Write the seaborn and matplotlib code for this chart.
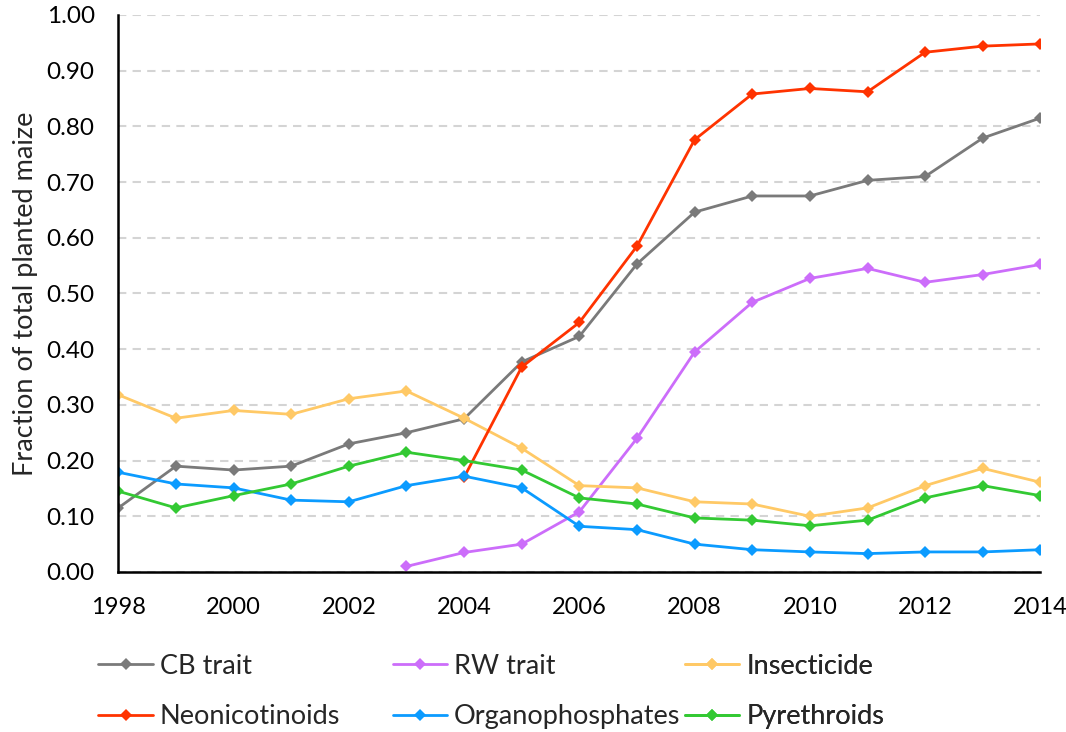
import pandas as pd
import matplotlib.pyplot as plt
import numpy as np
import seaborn as sns

years = list(range(1998, 2015))
nan = np.nan

# Values
cb_trait = [0.115, 0.190, 0.183, 0.190, 0.230, 0.250, 0.275, 0.377, 0.423, 0.553,
            0.646, 0.675, 0.675, 0.703, 0.710, 0.779, 0.815]
rw_trait = [nan, nan, nan, nan, nan, 0.010, 0.035, 0.050, 0.108, 0.240,
            0.395, 0.484, 0.527, 0.545, 0.520, 0.534, 0.552]
insecticide = [0.318, 0.276, 0.290, 0.283, 0.311, 0.325, 0.276, 0.222, 0.155, 0.151,
               0.126, 0.122, 0.100, 0.115, 0.155, 0.186, 0.161]
neonicotinoids = [nan, nan, nan, nan, nan, nan, 0.170, 0.368, 0.448, 0.585,
                  0.776, 0.858, 0.868, 0.862, 0.933, 0.944, 0.948]
organophosphates = [0.179, 0.158, 0.151, 0.129, 0.126, 0.155, 0.172, 0.151, 0.082, 0.076,
                    0.050, 0.040, 0.036, 0.033, 0.036, 0.036, 0.040]
pyrethroids = [0.145, 0.115, 0.137, 0.158, 0.190, 0.215, 0.200, 0.183, 0.133, 0.122,
               0.097, 0.093, 0.083, 0.093, 0.133, 0.155, 0.137]

series_names = ['CB trait', 'RW trait', 'Insecticide',
                'Neonicotinoids', 'Organophosphates', 'Pyrethroids']
colors = ['#7a7a7a', '#cc6dfa', '#ffc966', '#ff3300', '#0b9bff', '#33c933']

frames = []
for name, vals in zip(series_names, [cb_trait, rw_trait, insecticide,
                                     neonicotinoids, organophosphates, pyrethroids]):
    frames.append(pd.DataFrame({'Year': years, 'Fraction': vals, 'Series': name}))
df = pd.concat(frames).dropna()

sns.set_style('white')
plt.rcParams['font.family'] = ['Lato', 'DejaVu Sans']

fig = plt.figure(figsize=(10.66, 7.32), dpi=100)
ax = fig.add_axes([0.111, 0.2186, 0.865, 0.761])

sns.lineplot(data=df, x='Year', y='Fraction', hue='Series', hue_order=series_names,
             palette=colors, marker='D', markersize=6, markeredgewidth=0,
             linewidth=2, ax=ax)

ax.set_xlim(1998, 2014)
ax.set_ylim(0, 1.0)
ax.set_xticks(range(1998, 2015, 2))
ax.set_yticks(np.arange(0, 1.01, 0.1))
ax.set_yticklabels([f'{v:.2f}' for v in np.arange(0, 1.01, 0.1)])
ax.tick_params(axis='both', length=0, colors='black')
ax.tick_params(axis='y', pad=17, labelsize=17.5)
ax.tick_params(axis='x', pad=18, labelsize=17)
ax.set_xlabel('')
ax.set_ylabel('Fraction of total planted maize', fontsize=19.5, labelpad=6)

ax.yaxis.grid(True, linestyle=(0, (4, 3)), color='#d4d4d4', linewidth=1.5)
ax.set_axisbelow(True)
for side in ['top', 'right']:
    ax.spines[side].set_visible(False)
for side in ['left', 'bottom']:
    ax.spines[side].set_color('black')
    ax.spines[side].set_linewidth(1.8)

# Three one-column legends so the columns sit at fixed positions like the original
handles, labels = ax.get_legend_handles_labels()
ax.get_legend().remove()
col_x = [-0.048, 0.271, 0.588]
for c in range(3):
    idx = [c, c + 3]
    leg = ax.legend([handles[i] for i in idx], [labels[i] for i in idx],
                    loc='upper left', bbox_to_anchor=(col_x[c], -0.103),
                    frameon=False, fontsize=19.5, handlelength=2.0,
                    handletextpad=0.27, labelspacing=0.95)
    ax.add_artist(leg)

plt.savefig('out.png', dpi=100)
